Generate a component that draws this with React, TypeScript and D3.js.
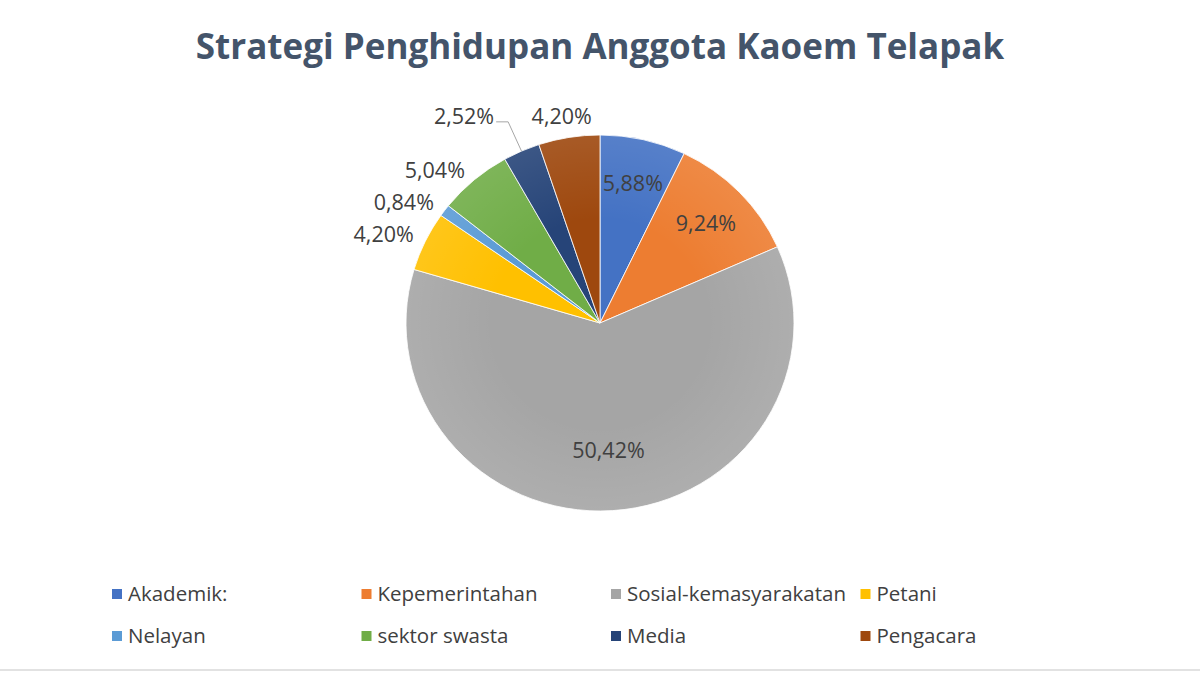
import React from "react";
import * as d3 from "d3";

const categories = [
  "Akademik:",
  "Kepemerintahan",
  "Sosial-kemasyarakatan",
  "Petani",
  "Nelayan",
  "sektor swasta",
  "Media",
  "Pengacara",
];
const values = [5.88, 9.24, 50.42, 4.2, 0.84, 5.04, 2.52, 4.2];
const colors = [
  "#4472C4",
  "#ED7D31",
  "#A5A5A5",
  "#FFC000",
  "#5B9BD5",
  "#70AD47",
  "#264478",
  "#9E480E",
];
const labelModes = ["inside", "inside", "inside", "outside", "outside", "outside", "leader", "outside"];
const title = "Strategi Penghidupan Anggota Kaoem Telapak";

const W = 1200;
const H = 675;
const cx = 600;
const cy = 323;
const rx = 194;
const ry = 188;
const FONT = "'Open Sans', 'Noto Sans', sans-serif";

const fmt = (v: number) => d3.format(".2f")(v).replace(".", ",") + "%";

export default function App() {
  const pie = d3.pie<number>().sort(null).value((d) => d);
  const arcs = pie(values);
  const arcGen = d3.arc<d3.PieArcDatum<number>>().innerRadius(0).outerRadius(ry);

  const pt = (a: number, k: number) => [cx + rx * k * Math.sin(a), cy - ry * k * Math.cos(a)];

  const legendX = d3.scaleLinear().domain([0, 4]).range([112, 112 + 4 * 249.5]);
  const legendY = d3.scaleLinear().domain([0, 1]).range([594, 636]);

  return (
    <svg
      width={W}
      height={H}
      viewBox={`0 0 ${W} ${H}`}
      style={{ position: "absolute", left: 0, top: 0, background: "#fff" }}
    >
      <defs>
        <radialGradient id="shade" cx="0" cy="0" r={ry} gradientUnits="userSpaceOnUse">
          <stop offset="0.55" stopColor="#fff" stopOpacity={0} />
          <stop offset="1" stopColor="#fff" stopOpacity={0.1} />
        </radialGradient>
      </defs>
      <rect x={0} y={0} width={W} height={H} fill="#fff" />
      <text
        x={600}
        y={59}
        textAnchor="middle"
        fontFamily={FONT}
        fontWeight={700}
        fontSize={35}
        fill="#44546A"
      >
        {title}
      </text>

      <g transform={`translate(${cx},${cy}) scale(${rx / ry},1)`}>
        {arcs.map((a, i) => (
          <path key={i} d={arcGen(a) || ""} fill={colors[i]} stroke="#fff" strokeWidth={0.8} />
        ))}
        {arcs.map((a, i) => (
          <path key={"s" + i} d={arcGen(a) || ""} fill="url(#shade)" stroke="none" />
        ))}
      </g>

      {arcs.map((a, i) => {
        const mid = (a.startAngle + a.endAngle) / 2;
        const mode = labelModes[i];
        const txt = fmt(values[i]);
        const common = { fontFamily: FONT, fontSize: 21.5, fill: "#404040" };
        if (mode === "inside") {
          const k = values[i] > 25 ? 0.68 : 0.76;
          const [x, y] = pt(mid, k);
          return (
            <text key={"l" + i} x={x} y={y + 7} textAnchor="middle" {...common}>
              {txt}
            </text>
          );
        }
        if (mode === "leader") {
          const [ex, ey] = pt(mid, 1.0);
          const [bx, by] = pt(mid, 1.17);
          return (
            <g key={"l" + i}>
              <polyline
                points={`${ex},${ey} ${bx},${by} ${bx - 12},${by}`}
                fill="none"
                stroke="#A6A6A6"
                strokeWidth={1}
              />
              <text x={bx - 14} y={by + 2} textAnchor="end" {...common}>
                {txt}
              </text>
            </g>
          );
        }
        const [px, py] = pt(mid, 1 + 8 / ry);
        const s = Math.sin(mid);
        if (Math.abs(s) < 0.3) {
          return (
            <text key={"l" + i} x={px - 6} y={py - 6} textAnchor="middle" {...common}>
              {txt}
            </text>
          );
        }
        return (
          <text
            key={"l" + i}
            x={px - 4 * Math.sign(-s)}
            y={py + 4}
            textAnchor={s < 0 ? "end" : "start"}
            {...common}
          >
            {txt}
          </text>
        );
      })}

      {categories.map((c, i) => {
        const col = i % 4;
        const row = Math.floor(i / 4);
        const x = legendX(col);
        const y = legendY(row);
        return (
          <g key={"lg" + i}>
            <rect x={x} y={y - 5} width={10} height={10} fill={colors[i]} />
            <text x={x + 16} y={y + 7} fontFamily={FONT} fontSize={20.5} fill="#404040">
              {c}
            </text>
          </g>
        );
      })}

      <line x1={0} x2={W} y1={670} y2={670} stroke="#D9D9D9" strokeWidth={1.5} />
    </svg>
  );
}
